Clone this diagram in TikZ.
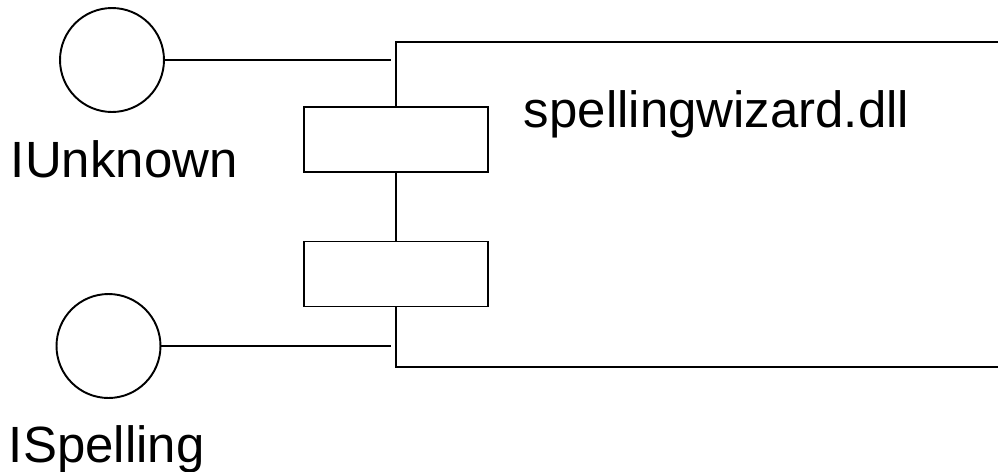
\documentclass[tikz,border=0pt]{standalone}
\usepackage{fontspec}
\setmainfont{Liberation Sans}
\usetikzlibrary{positioning,calc}

\begin{document}
\begin{tikzpicture}[x=0.02cm, y=-0.02cm, line width=1.1pt,
		iface/.style={circle, draw=black, minimum size=2.08cm, inner sep=0pt},
		port/.style={rectangle, draw=black, fill=white, minimum width=3.68cm, minimum height=1.3cm, inner sep=0pt},
		lbl/.style={anchor=base west, inner sep=0pt, font=\fontsize{29}{35}\selectfont}]
		\useasboundingbox (0,0) rectangle (998,471);
		
		\node [iface] (iu) at (112,60) {};
		\node [iface] (is) at (108.5,346) {};
		
		\node [port] (p1) at (396,139.5) {};
		\node [port] (p2) at (396,274) {};
		
		\coordinate (tl) at (396,42);
		\coordinate (tr) at (998,42);
		\coordinate (bl) at (396,367);
		\coordinate (br) at (998,367);
		\coordinate (iue) at (391,60);
		\coordinate (ise) at (391,346);
		
		\draw (tr) -- (tl) -- (p1.north);
		\draw (p1.south) -- (p2.north);
		\draw (p2.south) -- (bl) -- (br);
		
		\draw (iu) -- (iue);
		\draw (is) -- (ise);
		
		\node [lbl] (iut) at (10,177) {IUnknown};
		\node [lbl] (ist) at (8,462) {ISpelling};
		\node [lbl] (dll) at (523,127) {spellingwizard.dll};
	\end{tikzpicture}
\end{document}
